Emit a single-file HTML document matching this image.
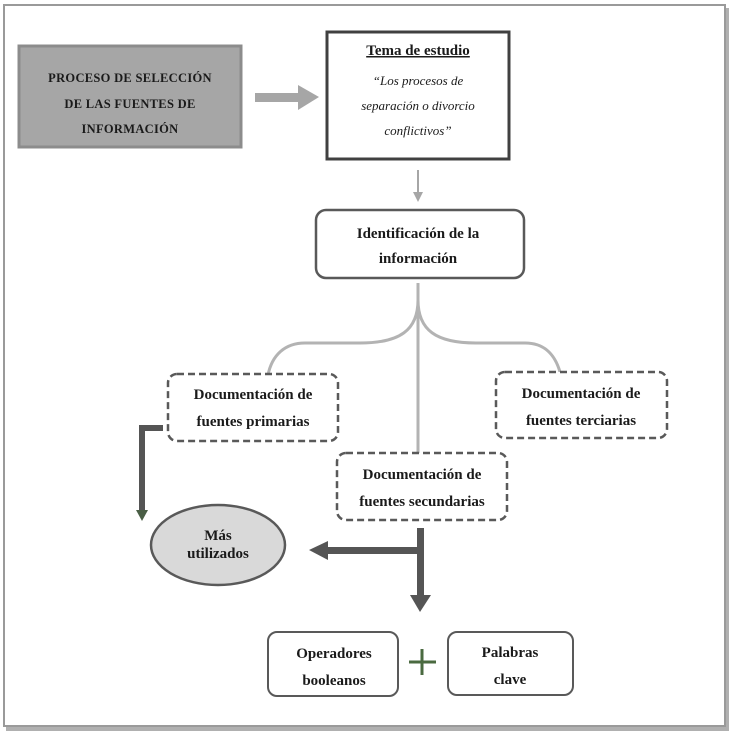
<!DOCTYPE html>
<html><head><meta charset="utf-8"><style>
body{margin:0;background:#fff;width:737px;height:739px;overflow:hidden}
text{font-family:"Liberation Serif",serif;font-weight:bold;fill:#1a1a1a}
</style></head><body>
<svg width="737" height="739" viewBox="0 0 737 739" xmlns="http://www.w3.org/2000/svg">
<rect x="6" y="8" width="723" height="723" fill="#b0b0b0"/>
<rect x="4" y="5" width="721" height="721" fill="#fff" stroke="#9a9a9a" stroke-width="2"/>
<rect x="19" y="46" width="222" height="101" fill="#a6a6a6" stroke="#8c8c8c" stroke-width="3"/>
<g font-size="12.5" text-anchor="middle" letter-spacing="0.3">
<text x="130" y="82">PROCESO DE SELECCIÓN</text>
<text x="130" y="108">DE LAS FUENTES DE</text>
<text x="130" y="133">INFORMACIÓN</text></g>
<rect x="255" y="93" width="45" height="9" fill="#a6a6a6"/>
<polygon points="298,85 319,97 298,110" fill="#a6a6a6"/>
<rect x="327" y="32" width="182" height="127" fill="#fff" stroke="#404040" stroke-width="3"/>
<text x="418" y="55" font-size="15" text-anchor="middle" text-decoration="underline">Tema de estudio</text>
<g font-size="13" font-style="italic" font-weight="normal" text-anchor="middle">
<text x="418" y="85" style="font-weight:normal">“Los procesos de</text>
<text x="418" y="110" style="font-weight:normal">separación o divorcio</text>
<text x="418" y="135" style="font-weight:normal">conflictivos”</text></g>
<line x1="418" y1="170" x2="418" y2="194" stroke="#a6a6a6" stroke-width="2"/>
<polygon points="413,192 423,192 418,202" fill="#a6a6a6"/>
<rect x="316" y="210" width="208" height="68" rx="10" fill="#fff" stroke="#595959" stroke-width="2.5"/>
<text x="418" y="238" font-size="15" text-anchor="middle">Identificación de la</text>
<text x="418" y="263" font-size="15" text-anchor="middle">información</text>
<g fill="none" stroke="#b3b3b3" stroke-width="3">
<line x1="418" y1="283" x2="418" y2="455"/>
<path d="M418,300 C418,330 400,343 360,343 L305,343 C285,343 272,355 268,375"/>
<path d="M418,300 C418,330 436,343 476,343 L525,343 C545,343 555,355 560,372"/>
</g>
<g fill="#fff" stroke="#595959" stroke-width="2.5" stroke-dasharray="7,4">
<rect x="168" y="374" width="170" height="67" rx="9"/>
<rect x="496" y="372" width="171" height="66" rx="9"/>
<rect x="337" y="453" width="170" height="67" rx="9"/>
</g>
<g font-size="15" text-anchor="middle">
<text x="253" y="399">Documentación de</text>
<text x="253" y="426">fuentes primarias</text>
<text x="581" y="398">Documentación de</text>
<text x="581" y="425">fuentes terciarias</text>
<text x="422" y="479">Documentación de</text>
<text x="422" y="506">fuentes secundarias</text>
</g>
<path d="M163,428 L142,428 L142,512" fill="none" stroke="#555" stroke-width="6"/>
<polygon points="136,510 148,510 142,521" fill="#4a5e45"/>
<ellipse cx="218" cy="545" rx="67" ry="40" fill="#d9d9d9" stroke="#595959" stroke-width="2.5"/>
<text x="218" y="540" font-size="15" text-anchor="middle">Más</text>
<text x="218" y="558" font-size="15" text-anchor="middle">utilizados</text>
<rect x="417" y="528" width="7" height="70" fill="#555"/>
<polygon points="410,595 431,595 420,612" fill="#555"/>
<rect x="326" y="547" width="94" height="7" fill="#555"/>
<polygon points="328,541 328,560 309,550" fill="#555"/>
<rect x="268" y="632" width="130" height="64" rx="9" fill="#fff" stroke="#595959" stroke-width="2"/>
<rect x="448" y="632" width="125" height="63" rx="9" fill="#fff" stroke="#595959" stroke-width="2"/>
<g font-size="15" text-anchor="middle">
<text x="334" y="658">Operadores</text>
<text x="334" y="685">booleanos</text>
<text x="510" y="657">Palabras</text>
<text x="510" y="684">clave</text></g>
<line x1="409" y1="662" x2="436" y2="662" stroke="#4a6a40" stroke-width="3"/>
<line x1="422" y1="649" x2="422" y2="675" stroke="#4a6a40" stroke-width="3"/>
</svg>
</body></html>
